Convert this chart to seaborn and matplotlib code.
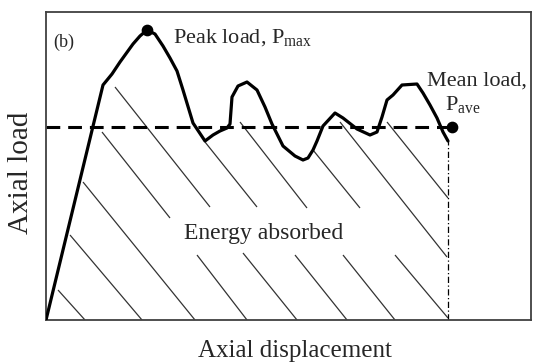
import matplotlib
matplotlib.use("Agg")
import matplotlib.pyplot as plt
import seaborn as sns
import pandas as pd

# Load-displacement curve (arbitrary units)
disp = [0, 57, 66, 74, 87, 94, 101, 109, 117, 124, 131, 137, 147, 159, 167, 174,
        181, 184, 186, 192, 201, 211, 219, 226, 237, 249, 257, 262, 267, 271, 277,
        289, 297, 311, 324, 331, 336, 341, 347, 356, 371, 377, 384, 391, 397, 402]
load = [0, 235, 246, 258, 276, 284, 290, 286, 274, 262, 249, 230, 197, 179, 185, 189,
        192, 196, 223, 234, 238, 230, 213, 196, 174, 164, 160, 162, 170, 179, 194,
        207, 202, 191, 185, 188, 203, 220, 225, 235, 236, 227, 215, 202, 188, 179]

peak_disp, peak_load = 101, 290
mean_load = 193
mean_end = 406
end_disp = 402

# Hatching strokes inside the absorbed-energy region: (x0, y0, x1, y1)
hatch_x0 = [12, 24, 37, 56, 151, 69, 159, 197, 194, 249, 267, 297, 294, 349, 341]
hatch_y0 = [30, 85, 138, 188, 65, 233, 178, 67, 198, 65, 170, 65, 198, 65, 198]
hatch_x1 = [39, 96, 149, 124, 201, 164, 211, 251, 261, 301, 314, 349, 401, 402, 402]
hatch_y1 = [0, 0, 0, 102, 0, 113, 113, 0, 112, 0, 112, 0, 63, 2, 122]

sns.set_theme(style="white")
plt.rcParams["font.family"] = ["Liberation Serif", "DejaVu Serif"]
plt.rcParams["mathtext.fontset"] = "custom"
plt.rcParams["mathtext.rm"] = "Liberation Serif"

fig = plt.figure(figsize=(5.33, 3.63), dpi=100)
ax = fig.add_axes([46 / 533, 43 / 363, 485 / 533, 308 / 363])

for a, b, c, d in zip(hatch_x0, hatch_y0, hatch_x1, hatch_y1):
    ax.plot([a, c], [b, d], color="#333333", lw=0.9, solid_capstyle="butt", zorder=1)

df = pd.DataFrame({"disp": disp, "load": load})
sns.lineplot(data=df, x="disp", y="load", sort=False, color="black", lw=2.3,
             ax=ax, zorder=3)

# Mean load line and end marker
ax.plot([0, mean_end], [mean_load, mean_load], color="black", lw=2.2,
        dashes=(4.5, 2.6), zorder=2)
ax.plot([end_disp, end_disp], [0, load[-1]], color="black", lw=0.9,
        dashes=(5, 2, 1, 2), zorder=2)
ax.scatter([peak_disp, mean_end], [peak_load, mean_load], s=55, color="black", zorder=4)

ax.text(7, 278, "(b)", fontsize=13, va="center", ha="left")
ax.text(127, 277, r"Peak load, P$_{\mathrm{max}}$", fontsize=16, va="baseline", ha="left")
ax.text(381, 234, "Mean load,", fontsize=16, va="baseline", ha="left")
ax.text(399, 210, r"P$_{\mathrm{ave}}$", fontsize=16, va="baseline", ha="left")
ax.text(218, 87, "Energy absorbed", fontsize=17, va="center", ha="center")

ax.set_xlim(0, 485)
ax.set_ylim(0, 308)
ax.set_xticks([])
ax.set_yticks([])
ax.set_xlabel("Axial displacement", fontsize=18)
ax.set_ylabel("Axial load", fontsize=21)
ax.xaxis.set_label_coords(0.513, -0.065)
ax.yaxis.set_label_coords(-0.025, 0.477)

for s in ax.spines.values():
    s.set_visible(True)
    s.set_color("#404040")
    s.set_linewidth(1.3)

fig.savefig("out.png", dpi=100)
